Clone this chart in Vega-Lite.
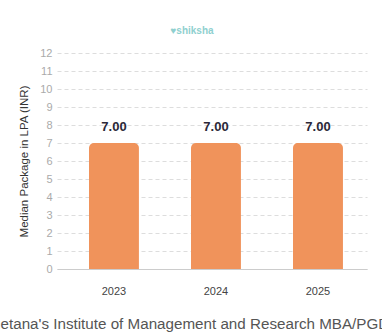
{
  "$schema": "https://vega.github.io/schema/vega-lite/v6.json",
  "autosize": "none",
  "width": 310,
  "height": 216,
  "padding": {"left": 57, "top": 53, "right": 15, "bottom": 67},
  "background": "#ffffff",
  "config": {
    "font": "Liberation Sans",
    "view": {"stroke": null}
  },
  "title": {
    "text": "♥shiksha",
    "fontSize": 10,
    "fontWeight": "bold",
    "color": "#8fd0cf",
    "anchor": "middle",
    "dx": -20,
    "offset": 11
  },
  "data": {
    "values": [
      {"year": "2023", "median": 7.0},
      {"year": "2024", "median": 7.0},
      {"year": "2025", "median": 7.0}
    ]
  },
  "encoding": {
    "x": {
      "field": "year",
      "type": "nominal",
      "sort": null,
      "scale": {"paddingInner": 0.51, "paddingOuter": 0.2745, "align": 0.571},
      "axis": {
        "title": "Chetana's Institute of Management and Research MBA/PGDM",
        "titleFontSize": 15.2,
        "titleFontWeight": "normal",
        "titleColor": "#555555",
        "titlePadding": 20,
        "titleX": 134,
        "titleAlign": "center",
        "labelAngle": 0,
        "labelFontSize": 11,
        "labelColor": "#444444",
        "labelPadding": 16,
        "ticks": false,
        "domain": true,
        "domainColor": "#cccccc",
        "grid": false
      }
    },
    "y": {
      "field": "median",
      "type": "quantitative",
      "scale": {"domain": [0, 12]},
      "axis": {
        "title": "Median Package in LPA (INR)",
        "titleFontSize": 11.5,
        "titleFontWeight": "normal",
        "titleColor": "#333333",
        "titlePadding": 10,
        "values": [0, 1, 2, 3, 4, 5, 6, 7, 8, 9, 10, 11, 12],
        "labelFontSize": 11,
        "labelColor": "#aaaaaa",
        "labelPadding": 5,
        "ticks": false,
        "domain": false,
        "grid": true,
        "gridColor": "#dddddd",
        "gridDash": [4, 3]
      }
    }
  },
  "layer": [
    {
      "mark": {
        "type": "bar",
        "color": "#f0935b",
        "cornerRadiusTopLeft": 5,
        "cornerRadiusTopRight": 5
      }
    },
    {
      "mark": {
        "type": "text",
        "fontSize": 13,
        "fontWeight": "bold",
        "color": "#2b2838",
        "baseline": "alphabetic",
        "dy": -12
      },
      "encoding": {
        "text": {"field": "median", "type": "quantitative", "format": ".2f"}
      }
    }
  ]
}
